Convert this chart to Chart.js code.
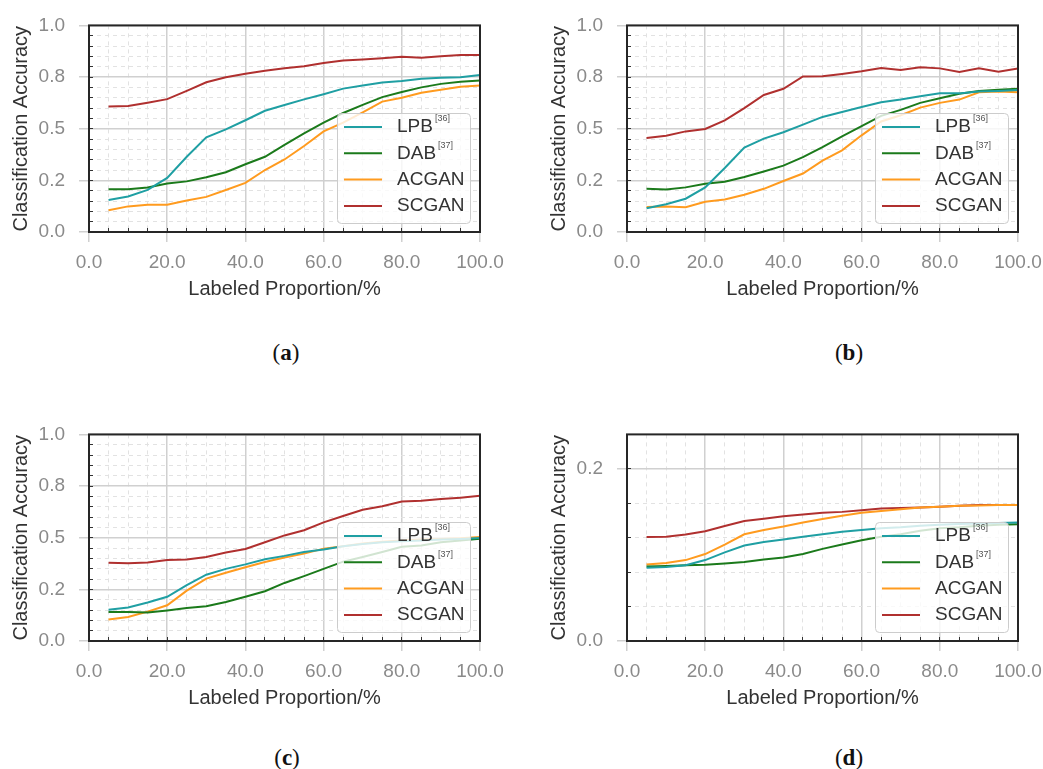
<!DOCTYPE html>
<html>
<head>
<meta charset="utf-8">
<script src="https://cdn.jsdelivr.net/npm/chart.js@4.4.1/dist/chart.umd.min.js"></script>
<style>
  body { margin: 0; background: #fff; width: 1043px; height: 769px; position: relative; overflow: hidden; }
  canvas { position: absolute; }
  .cap { position: absolute; font-family: "Liberation Serif", serif; font-size: 23px; line-height: 1; color: #111; transform: translate(-50%, -50%); }
</style>
</head>
<body>
<canvas id="chartA" width="520" height="312" style="left:0;top:0"></canvas>
<canvas id="chartB" width="520" height="312" style="left:538px;top:0"></canvas>
<canvas id="chartC" width="520" height="312" style="left:0;top:409px"></canvas>
<canvas id="chartD" width="520" height="312" style="left:538px;top:409px"></canvas>
<div class="cap" style="left:286px;top:352px">(<b>a</b>)</div>
<div class="cap" style="left:849px;top:352px">(<b>b</b>)</div>
<div class="cap" style="left:287px;top:757px">(<b>c</b>)</div>
<div class="cap" style="left:849px;top:757px">(<b>d</b>)</div>
<script>
// ---- data ----
const proportions = [5, 10, 15, 20, 25, 30, 35, 40, 45, 50, 55, 60, 65, 70, 75, 80, 85, 90, 95, 100];
const seriesNames = ["LPB", "DAB", "ACGAN", "SCGAN"];
const seriesRefs = ["[36]", "[37]", "", ""];

const lpbA   = [0.155, 0.172, 0.204, 0.262, 0.364, 0.458, 0.497, 0.541, 0.587, 0.615, 0.642, 0.667, 0.694, 0.709, 0.724, 0.731, 0.742, 0.747, 0.749, 0.760];
const dabA   = [0.207, 0.207, 0.215, 0.235, 0.245, 0.265, 0.289, 0.328, 0.364, 0.422, 0.477, 0.529, 0.576, 0.615, 0.653, 0.678, 0.700, 0.717, 0.727, 0.733];
const acganA = [0.105, 0.124, 0.132, 0.132, 0.152, 0.170, 0.203, 0.238, 0.300, 0.351, 0.416, 0.487, 0.529, 0.579, 0.631, 0.650, 0.674, 0.688, 0.703, 0.709];
const scganA = [0.608, 0.610, 0.626, 0.643, 0.683, 0.725, 0.749, 0.766, 0.780, 0.793, 0.802, 0.818, 0.830, 0.835, 0.841, 0.848, 0.843, 0.851, 0.857, 0.857];

const lpbB   = [0.115, 0.134, 0.161, 0.216, 0.310, 0.409, 0.452, 0.483, 0.520, 0.557, 0.581, 0.605, 0.628, 0.641, 0.657, 0.671, 0.671, 0.680, 0.683, 0.687];
const dabB   = [0.209, 0.206, 0.216, 0.233, 0.243, 0.266, 0.293, 0.321, 0.362, 0.411, 0.463, 0.512, 0.562, 0.591, 0.625, 0.647, 0.669, 0.683, 0.688, 0.693];
const acganB = [0.121, 0.124, 0.120, 0.146, 0.157, 0.180, 0.209, 0.247, 0.283, 0.345, 0.395, 0.468, 0.535, 0.565, 0.602, 0.625, 0.641, 0.676, 0.680, 0.676];
const scganB = [0.455, 0.466, 0.487, 0.499, 0.540, 0.600, 0.663, 0.693, 0.753, 0.754, 0.765, 0.778, 0.794, 0.784, 0.797, 0.792, 0.775, 0.792, 0.776, 0.792];

const lpbC   = [0.151, 0.162, 0.186, 0.214, 0.270, 0.321, 0.349, 0.371, 0.396, 0.412, 0.431, 0.443, 0.459, 0.470, 0.478, 0.483, 0.487, 0.491, 0.494, 0.498];
const dabC   = [0.140, 0.140, 0.138, 0.148, 0.160, 0.168, 0.189, 0.214, 0.241, 0.281, 0.314, 0.349, 0.384, 0.407, 0.431, 0.456, 0.462, 0.478, 0.486, 0.495];
const acganC = [0.104, 0.116, 0.142, 0.173, 0.244, 0.302, 0.330, 0.357, 0.382, 0.404, 0.423, 0.447, 0.459, 0.472, 0.480, 0.486, 0.491, 0.494, 0.497, 0.503];
const scganC = [0.379, 0.376, 0.380, 0.392, 0.395, 0.407, 0.428, 0.445, 0.478, 0.511, 0.536, 0.574, 0.605, 0.635, 0.652, 0.675, 0.679, 0.687, 0.693, 0.703];

const lpbD   = [0.085, 0.086, 0.088, 0.094, 0.103, 0.111, 0.115, 0.118, 0.121, 0.124, 0.127, 0.129, 0.131, 0.132, 0.134, 0.135, 0.136, 0.1365, 0.137, 0.1376];
const dabD   = [0.0865, 0.087, 0.088, 0.0887, 0.090, 0.0917, 0.0947, 0.097, 0.101, 0.107, 0.112, 0.117, 0.121, 0.124, 0.128, 0.131, 0.132, 0.134, 0.135, 0.1357];
const acganD = [0.089, 0.0906, 0.094, 0.101, 0.112, 0.124, 0.129, 0.133, 0.1376, 0.1417, 0.1455, 0.149, 0.151, 0.153, 0.155, 0.156, 0.157, 0.1575, 0.158, 0.158];
const scganD = [0.1207, 0.121, 0.1237, 0.1274, 0.1335, 0.1395, 0.142, 0.145, 0.147, 0.149, 0.150, 0.152, 0.154, 0.1545, 0.155, 0.156, 0.157, 0.158, 0.158, 0.158];

const xTickLabels = ["0.0", "20.0", "40.0", "60.0", "80.0", "100.0"];
const yTickLabels = ["0.0", "0.2", "0.5", "0.8", "1.0"];
const yTickLabelsD = ["0.0", "0.2"];

// ---- styles ----
const lineColors = ["#1f9fa3", "#1b7a1b", "#ff9b1f", "#b0302f"];
const SANS = '"Liberation Sans", Arial, sans-serif';

const isMult = (v, step) => Math.abs(v / step - Math.round(v / step)) < 1e-6;

// dark frame around the plot area
const framePlugin = {
    id: "frame",
    afterDatasetsDraw(chart) {
        const a = chart.chartArea;
        const ctx = chart.ctx;
        ctx.save();
        ctx.strokeStyle = "#262626";
        ctx.lineWidth = 2;
        ctx.strokeRect(a.left, a.top, a.right - a.left, a.bottom - a.top);
        ctx.restore();
    }
};

// legend box at lower right, with superscript refs
const legendPlugin = {
    id: "boxLegend",
    afterDatasetsDraw(chart) {
        const a = chart.chartArea;
        const ctx = chart.ctx;
        const w = 133, h = 110;
        const x0 = a.right - 10 - w;
        const y0 = a.bottom - 9 - h;
        ctx.save();
        ctx.fillStyle = "rgba(255,255,255,0.8)";
        ctx.strokeStyle = "#cccccc";
        ctx.lineWidth = 1;
        ctx.beginPath();
        ctx.roundRect(x0 + 0.5, y0 + 0.5, w, h, 4);
        ctx.fill();
        ctx.stroke();
        chart.data.datasets.forEach(function(ds, i){
            const y = y0 + 14 + i * 26.3;
            ctx.strokeStyle = ds.borderColor;
            ctx.lineWidth = 2;
            ctx.beginPath();
            ctx.moveTo(x0 + 7, y);
            ctx.lineTo(x0 + 45, y);
            ctx.stroke();
            ctx.fillStyle = "#333";
            ctx.font = "19px " + SANS;
            ctx.textBaseline = "middle";
            ctx.fillText(ds.label, x0 + 60, y);
            if (ds.ref) {
                const tw = ctx.measureText(ds.label).width;
                ctx.font = "9px " + SANS;
                ctx.fillStyle = "#555";
                ctx.fillText(ds.ref, x0 + 62 + tw, y - 8);
            }
        });
        ctx.restore();
    }
};

function makePanel(id, series, yMax, yMajor, yMinor, yLabels){

    const canvas = document.getElementById(id);

    return new Chart(canvas, {
        type: "line",
        data: {
            datasets: series.map(function(vals, i){
                return {
                    label: seriesNames[i],
                    ref: seriesRefs[i],
                    data: proportions.map(function(p, j){ return {x: p, y: vals[j]}; }),
                    borderColor: lineColors[i],
                    borderWidth: 2,
                    pointRadius: 0,
                    tension: 0,
                    fill: false
                };
            })
        },
        options: {
            responsive: false,
            animation: false,
            layout: { padding: { top: 20, right: canvas.width - 480, left: 0, bottom: 0 } },
            plugins: { legend: { display: false }, tooltip: { enabled: false } },
            scales: {
                x: {
                    type: "linear", position: "bottom", weight: 1,
                    min: 0, max: 100,
                    afterFit: function(s){ s.height = 312 - 232; },
                    ticks: {
                        stepSize: 20, padding: 9, color: "#8a8a8a",
                        font: { family: SANS, size: 19 },
                        callback: function(v){ return xTickLabels[Math.round(v / 20)]; }
                    },
                    grid: { color: "#d0d0d0", lineWidth: 1.5, tickLength: 10, tickColor: "#d0d0d0" },
                    border: { display: false },
                    title: {
                        display: true, text: "Labeled Proportion/%", color: "#333",
                        font: { family: SANS, size: 20 }, padding: { top: 0, bottom: 11 }
                    }
                },
                xMinor: {
                    type: "linear", position: "bottom", weight: 0,
                    min: 0, max: 100,
                    afterFit: function(s){ s.height = 0; },
                    ticks: { stepSize: 5, display: false },
                    grid: {
                        color: function(c){ return isMult(c.tick.value, 20) ? "rgba(0,0,0,0)" : "#e2e2e2"; },
                        lineWidth: 1, tickLength: -4, tickColor: "#333", tickWidth: 1
                    },
                    border: { display: false, dash: [4, 4] }
                },
                y: {
                    type: "linear", position: "left", weight: 1,
                    min: 0, max: yMax,
                    afterFit: function(s){ s.width = 89; },
                    ticks: {
                        stepSize: yMajor, padding: 14, color: "#8a8a8a", includeBounds: false,
                        font: { family: SANS, size: 19 },
                        callback: function(v){ return yLabels[Math.round(v / yMajor)]; }
                    },
                    grid: { color: "#d0d0d0", lineWidth: 1.5, tickLength: 10, tickColor: "#d0d0d0" },
                    border: { display: false },
                    title: {
                        display: true, text: "Classification Accuracy", color: "#333",
                        font: { family: SANS, size: 20 }, padding: { top: 9, bottom: 0 }
                    }
                },
                yMinor: {
                    type: "linear", position: "left", weight: 0,
                    min: 0, max: yMax,
                    afterFit: function(s){ s.width = 0; },
                    ticks: { stepSize: yMinor, display: false, includeBounds: false },
                    grid: {
                        color: function(c){ return isMult(c.tick.value, yMajor) ? "rgba(0,0,0,0)" : "#e2e2e2"; },
                        lineWidth: 1, tickLength: -4, tickColor: "#333", tickWidth: 1
                    },
                    border: { display: false, dash: [4, 4] }
                }
            }
        },
        plugins: [framePlugin, legendPlugin]
    });
}

makePanel("chartA", [lpbA, dabA, acganA, scganA], 1, 0.25, 0.05, yTickLabels);
makePanel("chartB", [lpbB, dabB, acganB, scganB], 1, 0.25, 0.05, yTickLabels);
makePanel("chartC", [lpbC, dabC, acganC, scganC], 1, 0.25, 0.05, yTickLabels);
makePanel("chartD", [lpbD, dabD, acganD, scganD], 0.24, 0.2, 0.04, yTickLabelsD);
</script>
</body>
</html>
